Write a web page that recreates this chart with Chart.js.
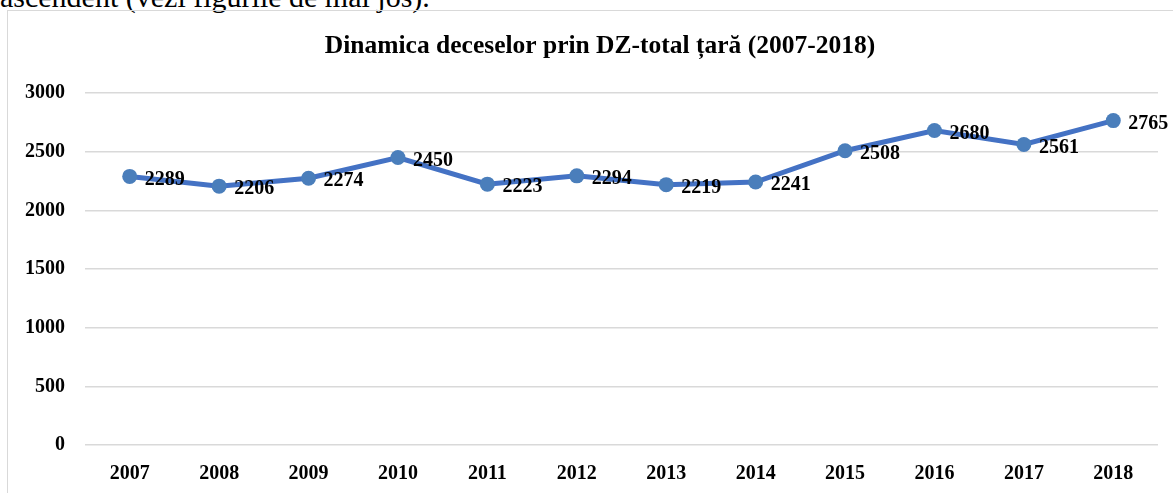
<!DOCTYPE html>
<html>
<head>
<meta charset="utf-8">
<script src="https://cdn.jsdelivr.net/npm/chart.js@4/dist/chart.umd.min.js"></script>
<style>
    html, body { margin: 0; padding: 0; background: #fff; overflow: hidden; }
    body { width: 1173px; height: 493px; position: relative; }
    .above { position: absolute; left: 0; top: -18px; font: 30px/30px "Liberation Serif", "Times New Roman", serif; color: #000; white-space: nowrap; }
    .frame { position: absolute; left: 7px; top: 10px; width: 1200px; height: 500px; border: 1px solid #d9d9d9; box-sizing: border-box; }
    #wrap { position: absolute; left: 7px; top: 11px; width: 1186px; height: 482px; }
</style>
</head>
<body>
<div class="above">ascendent (vezi figurile de mai jos).</div>
<div class="frame"></div>
<div id="wrap"><canvas id="chart"></canvas></div>
<script>
    const years = ['2007', '2008', '2009', '2010', '2011', '2012', '2013', '2014', '2015', '2016', '2017', '2018'];
    const deaths = [2289, 2206, 2274, 2450, 2223, 2294, 2219, 2241, 2508, 2680, 2561, 2765];
    const yTicks = [0, 500, 1000, 1500, 2000, 2500, 3000];
    const chartTitle = 'Dinamica deceselor prin DZ-total țară (2007-2018)';

    const serif = '"Liberation Serif", "Times New Roman", serif';

    // titlul centrat pe tot cadrul (nu doar pe zona graficului)
    const frameTitle = {
        id: 'frameTitle',
        afterDraw(chart) {
            const ctx = chart.ctx;
            ctx.save();
            ctx.font = 'bold 25.5px ' + serif;
            ctx.fillStyle = '#000';
            ctx.textAlign = 'center';
            ctx.textBaseline = 'middle';
            ctx.fillText(chartTitle, chart.width / 2, 35);
            ctx.restore();
        }
    };

    // etichetele valorilor, in dreapta fiecarui punct
    const valueLabels = {
        id: 'valueLabels',
        afterDatasetsDraw(chart) {
            const ctx = chart.ctx;
            const meta = chart.getDatasetMeta(0);
            ctx.save();
            ctx.font = 'bold 20px ' + serif;
            ctx.fillStyle = '#000';
            ctx.textAlign = 'left';
            ctx.textBaseline = 'middle';
            meta.data.forEach((pt, i) => {
                ctx.fillText(String(deaths[i]), pt.x + 15, pt.y + 3);
            });
            ctx.restore();
        }
    };

    new Chart(document.getElementById('chart'), {
        type: 'line',
        data: {
            labels: years,
            datasets: [{
                data: deaths,
                borderColor: '#4472C4',
                borderWidth: 5,
                pointRadius: 7.5,
                pointHoverRadius: 7.5,
                pointBackgroundColor: '#4A7EBB',
                pointBorderColor: '#4A7EBB',
                pointBorderWidth: 0,
                tension: 0
            }]
        },
        options: {
            responsive: true,
            maintainAspectRatio: false,
            animation: false,
            layout: { padding: { left: 0, right: 35, top: 82, bottom: 0 } },
            plugins: {
                legend: { display: false },
                tooltip: { enabled: false },
                title: { display: false }
            },
            scales: {
                x: {
                    offset: true,
                    grid: { display: false },
                    border: { display: false },
                    ticks: {
                        color: '#000',
                        padding: 9,
                        maxRotation: 0,
                        font: { family: serif, size: 20, weight: 'bold' }
                    },
                    afterFit(scale) { scale.height = 48; }
                },
                y: {
                    min: 0,
                    max: 3000,
                    afterBuildTicks(scale) { scale.ticks = yTicks.map(v => ({ value: v })); },
                    grid: { color: '#d9d9d9', lineWidth: 1.5, drawTicks: false },
                    border: { display: false },
                    ticks: {
                        color: '#000',
                        padding: 20,
                        font: { family: serif, size: 20, weight: 'bold' },
                        callback: (v) => String(v)
                    },
                    afterFit(scale) { scale.width = 78; }
                }
            }
        },
        plugins: [valueLabels, frameTitle]
    });
</script>
</body>
</html>
